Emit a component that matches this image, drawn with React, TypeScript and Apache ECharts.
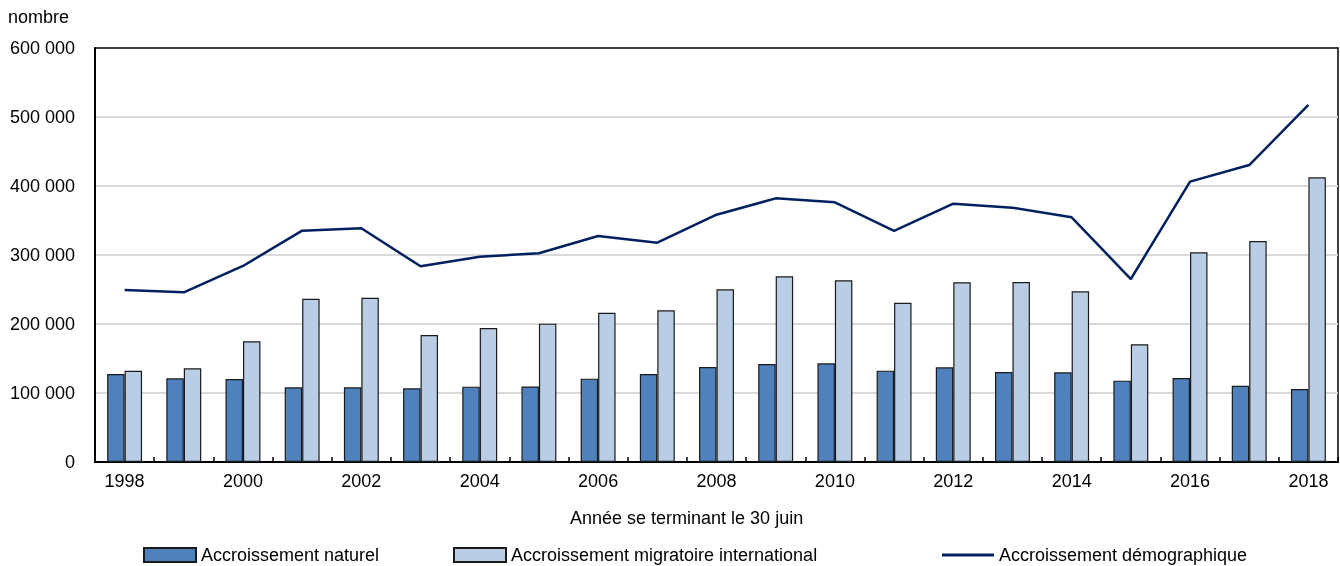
import React, { useEffect, useRef } from "react";
import * as echarts from "echarts";

const years = ["1998","1999","2000","2001","2002","2003","2004","2005","2006","2007","2008","2009","2010","2011","2012","2013","2014","2015","2016","2017","2018"];
const naturel = [127500,121300,120300,108200,108200,106800,109200,109500,120800,127500,137700,142000,143000,132400,137200,130400,129900,117900,121700,110600,105800];
const migratoire = [132300,135800,174900,236700,238100,184000,194200,200500,216400,219800,250300,269100,263300,230900,260400,260900,247300,170500,303900,320300,412600];
const demographique = [249300,245900,284100,335300,338700,283600,297600,302600,327500,317800,358400,382100,376300,334800,374400,368600,354600,265200,406300,430400,517400];

const FONT = "'Liberation Sans Narrow', 'Arial Narrow', 'Liberation Sans', Arial, sans-serif";
const fmt = (v: number) => String(v).replace(/\B(?=(\d{3})+(?!\d))/g, " ");

export default function App() {
  const ref = useRef<HTMLDivElement>(null);
  useEffect(() => {
    if (!ref.current) return;
    const chart = echarts.init(ref.current, undefined, { renderer: "svg" });
    const textStyle = { fontFamily: FONT, fontSize: 18, color: "#000" };
    const legendBase = { top: 546, padding: 0, itemWidth: 52, itemHeight: 14, textStyle };
    chart.setOption({
      animation: false,
      textStyle,
      grid: { left: 95, right: 2, top: 48, bottom: 104, show: true, borderColor: "#000", borderWidth: 1.5, backgroundColor: "transparent" },
      xAxis: {
        type: "category",
        data: years,
        boundaryGap: true,
        axisLine: { lineStyle: { color: "#000", width: 2 } },
        axisTick: { show: true, inside: true, length: 5, interval: 0, lineStyle: { color: "#000", width: 1.5 } },
        axisLabel: { interval: 1, margin: 10, ...textStyle },
      },
      yAxis: {
        type: "value",
        min: 0,
        max: 600000,
        interval: 100000,
        axisLine: { show: true, lineStyle: { color: "#000", width: 2 } },
        axisTick: { show: false },
        splitLine: { showMinLine: false, showMaxLine: false, lineStyle: { color: "#d9d9d9", width: 2 } },
        axisLabel: { formatter: (v: number) => fmt(v), margin: 20, ...textStyle },
      },
      legend: [
        { ...legendBase, left: 143, data: [{ name: "Accroissement naturel", icon: "rect" }] },
        { ...legendBase, left: 453, data: [{ name: "Accroissement migratoire international", icon: "rect" }] },
        { ...legendBase, left: 942, itemHeight: 3, data: [{ name: "Accroissement démographique", icon: "rect", itemStyle: { color: "#002060", borderWidth: 0 } }] },
      ],
      graphic: [
        { type: "text", left: 8, top: 8, style: { text: "nombre", fontFamily: FONT, fontSize: 18, fill: "#000" } },
        { type: "text", left: 570, top: 509, style: { text: "Année se terminant le 30 juin", fontFamily: FONT, fontSize: 18, fill: "#000" } },
      ],
      series: [
        {
          name: "Accroissement naturel",
          type: "bar",
          data: naturel,
          barGap: "0%",
          barCategoryGap: "41%",
          itemStyle: { color: "#4F81BD", borderColor: "#1a1a1a", borderWidth: 1.2 },
        },
        {
          name: "Accroissement migratoire international",
          type: "bar",
          data: migratoire,
          itemStyle: { color: "#B9CDE5", borderColor: "#1a1a1a", borderWidth: 1.2 },
        },
        {
          name: "Accroissement démographique",
          type: "line",
          data: demographique,
          symbol: "none",
          lineStyle: { color: "#002060", width: 2.5 },
          itemStyle: { color: "#002060" },
        },
      ],
    });
    return () => chart.dispose();
  }, []);
  return <div ref={ref} style={{ position: "fixed", left: 0, top: 0, width: 1340, height: 566 }} />;
}
